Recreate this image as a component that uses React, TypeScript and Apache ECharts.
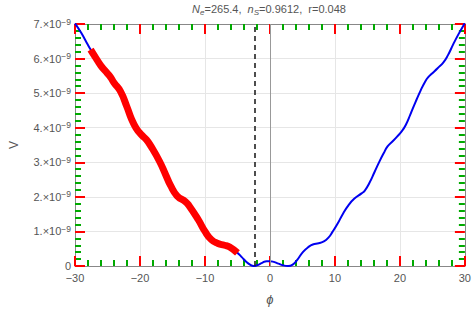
import React, { useEffect, useRef } from "react";
import * as echarts from "echarts";

// phi values and V values (in units of 1e-9)
const phi: number[] = [
  -30, -29, -28, -27.6, -27, -26, -25, -24.5, -24, -23, -22, -21.3, -20.6, -19.8, -19, -18.3,
  -17, -16, -15.3, -14.3, -13, -12.5, -11, -10, -9, -8, -7, -6.2, -5, -4.3, -3.7, -3, -2.5,
  -2, -1.2, -0.5, 0, 0.6, 1.3, 2, 2.8, 3.5, 4.2, 5.1, 6, 6.6, 7.5, 8.3, 9, 9.6, 10.4, 11.2,
  12.1, 13, 14.1, 14.6, 15.3, 16.1, 16.9, 17.5, 18.1, 19, 19.6, 20.3, 20.9, 21.6, 22.4, 23.2,
  23.9, 24.4, 24.9, 25.8, 26.7, 27.4, 28.2, 29, 29.85, 30,
];
const vE9: number[] = [
  7.02, 6.73, 6.39, 6.26, 6.08, 5.79, 5.57, 5.45, 5.3, 5.05, 4.6, 4.25, 3.99, 3.8, 3.65, 3.46,
  3.03, 2.62, 2.33, 2.03, 1.86, 1.76, 1.33, 1.0, 0.76, 0.65, 0.6, 0.55, 0.38, 0.25, 0.13, 0.03, 0.0,
  0.02, 0.09, 0.14, 0.14, 0.12, 0.07, 0.02, 0.0, 0.04, 0.18, 0.41, 0.56, 0.62, 0.66, 0.71, 0.82, 0.98, 1.22, 1.5,
  1.76, 1.95, 2.1, 2.18, 2.4, 2.72, 3.04, 3.26, 3.46, 3.63, 3.75, 3.9, 4.08, 4.38, 4.74, 5.08,
  5.34, 5.47, 5.56, 5.72, 5.89, 6.1, 6.41, 6.7, 6.98, 7.02,
];
// highlighted (red) range of phi
const redRange: number[] = [-27.6, -5];
const phiStar = -2.4;
const xTicks: number[] = [-30, -20, -10, 0, 10, 20, 30];
const yTicks: number[] = [0, 1, 2, 3, 4, 5, 6, 7];

const FONT = "Liberation Sans";
const GRAY = "#555";
const FRAME = "#888";

const line = () => ({ show: true, onZero: false, lineStyle: { color: FRAME, width: 1 } });
const tick = () => ({ show: true, inside: true, length: 10, lineStyle: { color: "#f00", width: 2 } });
const minor = () => ({ show: true, splitNumber: 5, length: 6, lineStyle: { color: "#0a0", width: 2 } });

export default function App() {
  const ref = useRef<HTMLDivElement>(null);
  useEffect(() => {
    if (!ref.current) return;
    const chart = echarts.init(ref.current, undefined, { renderer: "svg" });
    const all = phi.map((p, i) => [p, vE9[i]]);
    const red = all.filter((d) => d[0] >= redRange[0] && d[0] <= redRange[1]);
    const xLab = (v: number) => (v < 0 ? "\u2212" + Math.abs(v) : String(v));
    const yLab = (v: number) => (v === 0 ? "0" : `{m|${v}.\u00d710}{s|\u22129}`);
    const xMin = xTicks[0];
    const xMax = xTicks[xTicks.length - 1];
    const yMin = yTicks[0];
    const yMax = yTicks[yTicks.length - 1];
    chart.setOption({
      animation: false,
      grid: { left: 70, right: 6, top: 24, bottom: 41 },
      graphic: [
        {
          type: "text",
          x: 269,
          y: 9,
          style: {
            text: "{i|N}{sub|e}{t|=265.4,  }{i|n}{sub|S}{t|=0.9612,  r=0.048}",
            align: "center",
            verticalAlign: "middle",
            rich: {
              i: { fontFamily: FONT, fontSize: 11, fontStyle: "italic", fill: GRAY, lineHeight: 14 },
              t: { fontFamily: FONT, fontSize: 11, fill: GRAY, lineHeight: 14 },
              sub: { fontFamily: FONT, fontSize: 8, fontStyle: "italic", fill: GRAY, lineHeight: 8, verticalAlign: "bottom" },
            },
          },
        },
      ],
      xAxis: [
        {
          type: "value",
          min: xMin,
          max: xMax,
          interval: 10,
          position: "bottom",
          axisLine: line(),
          axisTick: tick(),
          minorTick: minor(),
          name: "\u03d5",
          nameLocation: "middle",
          nameGap: 27,
          nameTextStyle: { fontFamily: FONT, fontSize: 13, fontStyle: "italic", color: GRAY },
          axisLabel: { formatter: xLab, color: GRAY, fontFamily: FONT, fontSize: 11, margin: 6 },
          splitLine: { show: true, lineStyle: { color: "#e6e6e6", width: 1 } },
        },
        {
          type: "value",
          min: xMin,
          max: xMax,
          interval: 10,
          position: "top",
          axisLine: line(),
          axisTick: tick(),
          minorTick: minor(),
          axisLabel: { show: false },
          splitLine: { show: false },
        },
      ],
      yAxis: [
        {
          type: "value",
          min: yMin,
          max: yMax,
          interval: 1,
          position: "left",
          axisLine: line(),
          axisTick: tick(),
          minorTick: minor(),
          name: "V",
          nameLocation: "middle",
          nameGap: 55,
          nameRotate: 90,
          nameTextStyle: { fontFamily: FONT, fontSize: 12, color: GRAY },
          axisLabel: {
            formatter: yLab,
            color: GRAY,
            fontFamily: FONT,
            fontSize: 11,
            margin: 4,
            rich: {
              m: { fontFamily: FONT, fontSize: 11, color: GRAY, lineHeight: 14 },
              s: { fontFamily: FONT, fontSize: 8.5, color: GRAY, lineHeight: 8, verticalAlign: "top" },
            },
          },
          splitLine: { show: true, lineStyle: { color: "#e6e6e6", width: 1 } },
        },
        {
          type: "value",
          min: yMin,
          max: yMax,
          interval: 1,
          position: "right",
          axisLine: line(),
          axisTick: tick(),
          minorTick: minor(),
          axisLabel: { show: false },
          splitLine: { show: false },
        },
      ],
      series: [
        {
          type: "line",
          data: all,
          showSymbol: false,
          smooth: 0.5,
          lineStyle: { color: "#0000f0", width: 2 },
          markLine: {
            silent: true,
            symbol: "none",
            label: { show: false },
            data: [
              { xAxis: 0, lineStyle: { color: "#999", width: 1, type: "solid" } },
              { xAxis: phiStar, lineStyle: { color: "#222", width: 1.6, type: [5, 4] } },
            ],
          },
          z: 2,
        },
        {
          type: "line",
          data: red,
          showSymbol: false,
          smooth: 0.5,
          lineStyle: { color: "#ff0000", width: 7, cap: "butt" },
          z: 3,
        },
      ],
    });
    return () => chart.dispose();
  }, []);
  return (
    <div
      ref={ref}
      style={{ position: "fixed", left: 0, top: 0, width: 474, height: 311, background: "#fff" }}
    />
  );
}
